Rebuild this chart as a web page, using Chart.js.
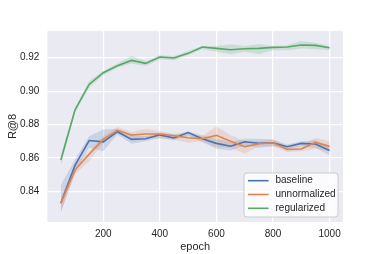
<!DOCTYPE html>
<html>
<head>
<meta charset="utf-8">
<script src="https://cdn.jsdelivr.net/npm/chart.js@4.4.0/dist/chart.umd.min.js"></script>
<style>
  html, body { margin: 0; padding: 0; background: #fff; }
</style>
</head>
<body>
<canvas id="chart" width="381" height="254"></canvas>
<script>
// --- data ---
const epochs = [50, 100, 150, 200, 250, 300, 350, 400, 450, 500, 550, 600, 650, 700, 750, 800, 850, 900, 950, 1000];

const baseline     = [0.8328, 0.8555, 0.8704, 0.8696, 0.8757, 0.8711, 0.8715, 0.8738, 0.8719, 0.8752, 0.8715, 0.8687, 0.8670, 0.8697, 0.8688, 0.8691, 0.8667, 0.8687, 0.8683, 0.8644];
const baselineLow  = [0.8277, 0.8510, 0.8660, 0.8640, 0.8740, 0.8685, 0.8700, 0.8720, 0.8705, 0.8735, 0.8695, 0.8655, 0.8645, 0.8675, 0.8660, 0.8670, 0.8655, 0.8670, 0.8660, 0.8615];
const baselineHigh = [0.8437, 0.8590, 0.8730, 0.8770, 0.8775, 0.8735, 0.8730, 0.8750, 0.8740, 0.8760, 0.8735, 0.8715, 0.8695, 0.8715, 0.8715, 0.8710, 0.8680, 0.8700, 0.8705, 0.8670];

const unnormalized     = [0.8330, 0.8527, 0.8622, 0.8711, 0.8765, 0.8737, 0.8743, 0.8743, 0.8733, 0.8721, 0.8715, 0.8735, 0.8699, 0.8667, 0.8685, 0.8691, 0.8651, 0.8653, 0.8693, 0.8669];
const unnormalizedLow  = [0.8275, 0.8500, 0.8580, 0.8690, 0.8745, 0.8720, 0.8720, 0.8715, 0.8710, 0.8690, 0.8700, 0.8665, 0.8660, 0.8625, 0.8670, 0.8670, 0.8635, 0.8640, 0.8655, 0.8640];
const unnormalizedHigh = [0.8360, 0.8560, 0.8640, 0.8730, 0.8785, 0.8755, 0.8775, 0.8760, 0.8745, 0.8740, 0.8730, 0.8790, 0.8735, 0.8700, 0.8700, 0.8710, 0.8670, 0.8670, 0.8720, 0.8700];

const regularized     = [0.8587, 0.8887, 0.9040, 0.9110, 0.9152, 0.9184, 0.9166, 0.9204, 0.9198, 0.9226, 0.9264, 0.9256, 0.9248, 0.9254, 0.9256, 0.9262, 0.9264, 0.9276, 0.9274, 0.9260];
const regularizedLow  = [0.8555, 0.8870, 0.9020, 0.9095, 0.9140, 0.9165, 0.9150, 0.9190, 0.9185, 0.9215, 0.9250, 0.9235, 0.9220, 0.9235, 0.9220, 0.9245, 0.9245, 0.9255, 0.9250, 0.9245];
const regularizedHigh = [0.8615, 0.8900, 0.9060, 0.9120, 0.9165, 0.9210, 0.9180, 0.9215, 0.9210, 0.9240, 0.9270, 0.9270, 0.9280, 0.9270, 0.9280, 0.9270, 0.9275, 0.9300, 0.9290, 0.9270];

const xTicks = [200, 400, 600, 800, 1000];
const yTicks = [0.84, 0.86, 0.88, 0.90, 0.92];

const blue = '#4C72B0', orange = '#DD8452', green = '#55A868';
const textColor = '#262626';
const fontFamily = '"Liberation Sans", Arial, sans-serif';

function pts(values) {
    return values.map((v, i) => ({ x: epochs[i], y: v }));
}

function fade(hex, a) {
    const n = parseInt(hex.slice(1), 16);
    return `rgba(${n >> 16}, ${(n >> 8) & 255}, ${n & 255}, ${a})`;
}

// a band (upper + lower filled to it) plus the mean line, per series
function series(label, color, mean, low, high, order) {
    return [
        { label: label + ' hi', data: pts(high), borderWidth: 0, pointRadius: 0, fill: false, order: order + 10, legend: false },
        { label: label + ' lo', data: pts(low), borderWidth: 0, pointRadius: 0, fill: '-1', backgroundColor: fade(color, 0.2), order: order + 10, legend: false },
        { label: label, data: pts(mean), borderColor: color, borderWidth: 1.6, pointRadius: 0, fill: false, order: order, legend: true }
    ];
}

const datasets = [
    ...series('baseline', blue, baseline, baselineLow, baselineHigh, 3),
    ...series('unnormalized', orange, unnormalized, unnormalizedLow, unnormalizedHigh, 2),
    ...series('regularized', green, regularized, regularizedLow, regularizedHigh, 1)
];

// seaborn-like background for the plot area
const plotBackground = {
    id: 'plotBackground',
    beforeDraw(chart) {
        const { ctx, chartArea: a } = chart;
        ctx.save();
        ctx.fillStyle = '#EAEAF2';
        ctx.fillRect(a.left, a.top, a.right - a.left, a.bottom - a.top);
        ctx.restore();
    }
};

// legend box in the lower right corner of the plot
const legendBox = {
    id: 'legendBox',
    afterDatasetsDraw(chart) {
        const { ctx, chartArea: a } = chart;
        const w = 94, h = 44;
        const x = a.right - 5 - w, y = a.bottom - 5 - h;
        ctx.save();
        ctx.beginPath();
        ctx.roundRect(x, y, w, h, 3);
        ctx.fillStyle = 'rgba(255,255,255,0.8)';
        ctx.fill();
        ctx.strokeStyle = '#cccccc';
        ctx.lineWidth = 1;
        ctx.stroke();
        ctx.font = '10px ' + fontFamily;
        ctx.textBaseline = 'middle';
        let row = 0;
        chart.data.datasets.forEach(ds => {
            if (!ds.legend) return;
            const cy = y + 7.7 + row * 13.8;
            ctx.strokeStyle = ds.borderColor;
            ctx.lineWidth = 1.6;
            ctx.beginPath();
            ctx.moveTo(x + 4, cy);
            ctx.lineTo(x + 24.5, cy);
            ctx.stroke();
            ctx.fillStyle = textColor;
            ctx.fillText(ds.label, x + 31.5, cy);
            row++;
        });
        ctx.restore();
    }
};

new Chart(document.getElementById('chart'), {
    type: 'line',
    data: { datasets },
    options: {
        responsive: false,
        animation: false,
        layout: { padding: { left: 0, right: 38, top: 31, bottom: 0 } },
        elements: { line: { tension: 0 } },
        plugins: {
            legend: { display: false },
            tooltip: { enabled: false }
        },
        scales: {
            x: {
                type: 'linear',
                min: 2.5,
                max: 1047.5,
                afterBuildTicks: s => { s.ticks = xTicks.map(v => ({ value: v })); },
                afterFit: s => { s.height = 32; },
                grid: { color: '#ffffff', lineWidth: 1.2, drawTicks: false },
                border: { display: false },
                ticks: { color: textColor, font: { size: 10, family: fontFamily }, padding: 6, maxRotation: 0, callback: v => String(v) },
                title: { display: true, text: 'epoch', color: textColor, font: { size: 11, family: fontFamily }, padding: { top: 0, bottom: 0 } }
            },
            y: {
                min: 0.8216,
                max: 0.936,
                afterBuildTicks: s => { s.ticks = yTicks.map(v => ({ value: v })); },
                afterFit: s => { s.width = 47.4; },
                grid: { color: '#ffffff', lineWidth: 1.2, drawTicks: false },
                border: { display: false },
                ticks: { color: textColor, font: { size: 10, family: fontFamily }, padding: 8, callback: v => v.toFixed(2) },
                title: { display: true, text: 'R@8', color: textColor, font: { size: 11, family: fontFamily }, padding: { top: 6, bottom: 0 } }
            }
        }
    },
    plugins: [plotBackground, legendBox]
});
</script>
</body>
</html>
